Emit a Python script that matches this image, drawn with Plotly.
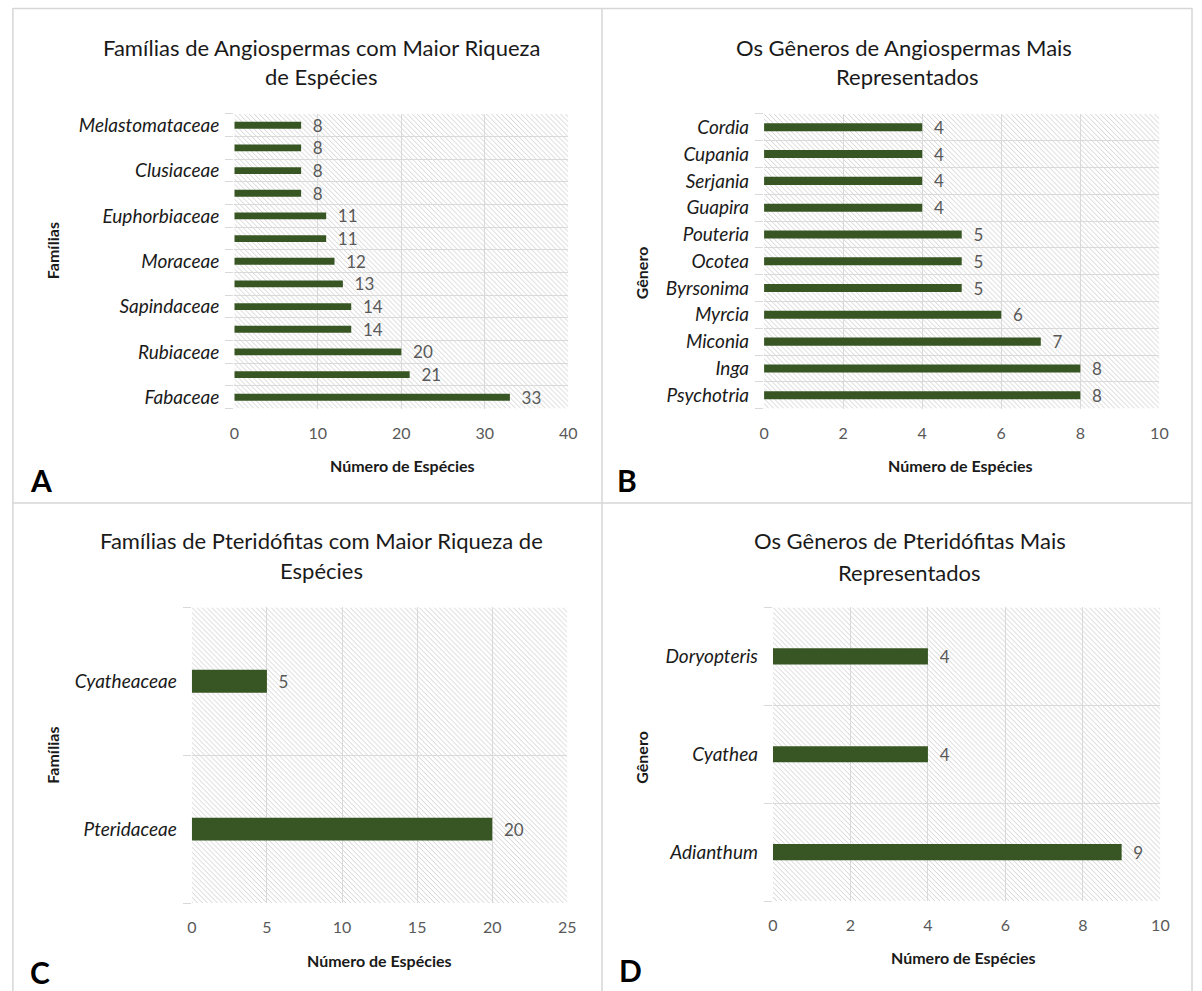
import base64
import plotly.graph_objects as go

W, H = 1202, 991

# ---------------- data ----------------
# Panel A (bottom -> top); unlabeled bands have no visible name in the source
fam_ang_labels = ["Fabaceae", "", "Rubiaceae", "", "Sapindaceae", "", "Moraceae", "",
                  "Euphorbiaceae", "", "Clusiaceae", "", "Melastomataceae"]
fam_ang_values = [33, 21, 20, 14, 14, 13, 12, 11, 11, 8, 8, 8, 8]

# Panel B (bottom -> top)
gen_ang_labels = ["Psychotria", "Inga", "Miconia", "Myrcia", "Byrsonima", "Ocotea",
                  "Pouteria", "Guapira", "Serjania", "Cupania", "Cordia"]
gen_ang_values = [8, 8, 7, 6, 5, 5, 5, 4, 4, 4, 4]

# Panel C (bottom -> top)
fam_pte_labels = ["Pteridaceae", "Cyatheaceae"]
fam_pte_values = [20, 5]

# Panel D (bottom -> top)
gen_pte_labels = ["Adianthum", "Cyathea", "Doryopteris"]
gen_pte_values = [9, 4, 4]

x_title = "Número de Espécies"
titles = [
    ["Famílias de Angiospermas com Maior Riqueza", "de Espécies"],
    ["Os Gêneros de Angiospermas Mais", "Representados"],
    ["Famílias de Pteridófitas com Maior Riqueza de", "Espécies"],
    ["Os Gêneros de Pteridófitas Mais", "Representados"],
]
y_titles = ["Famílias", "Gênero", "Famílias", "Gênero"]
letters = ["A", "B", "C", "D"]

# ---------------- style / layout ----------------
FONT = "Lato"
BAR = "#375623"
GRID = "#d9d9d9"
TXT = "#1a1a1a"
TICK = "#595959"

# plot areas in pixels: (left, right, top, bottom)
areas = [(232, 570, 113, 408), (768, 1168, 113, 408),
         (189, 569, 607, 903), (777, 1169, 607, 901)]
xranges = [(0, 40, 10), (0, 10, 2), (0, 25, 5), (0, 10, 2)]
bar_widths = [0.3, 0.3, 0.155, 0.165]
title_pos = [((320, 47), (320, 76)), ((910, 47), (913, 76)),
             ((320, 540), (320, 570)), ((916, 540), (915, 572))]
xtitle_pos = [(402, 465), (967, 465), (379, 960), (970, 957)]
ytitle_pos = [(48, 250), (644, 272), (48, 755), (644, 757)]
letter_pos = [(36, 479), (629, 479), (35, 972), (633, 970)]

datasets = [(fam_ang_labels, fam_ang_values), (gen_ang_labels, gen_ang_values),
            (fam_pte_labels, fam_pte_values), (gen_pte_labels, gen_pte_values)]


def px(x):
    return x / W


def py(y):
    return 1 - y / H


def hatch_uri(w, h):
    svg = (
        f'<svg xmlns="http://www.w3.org/2000/svg" width="{w}" height="{h}">'
        '<defs><pattern id="p" width="5" height="5" patternUnits="userSpaceOnUse">'
        '<line x1="0" y1="0" x2="5" y2="5" stroke="#d2d2d2" stroke-width="1"/>'
        '<line x1="-1" y1="4" x2="1" y2="6" stroke="#d2d2d2" stroke-width="1"/>'
        '<line x1="4" y1="-1" x2="6" y2="1" stroke="#d2d2d2" stroke-width="1"/>'
        '</pattern></defs>'
        f'<rect width="{w}" height="{h}" fill="#ffffff"/>'
        f'<rect width="{w}" height="{h}" fill="url(#p)"/></svg>'
    )
    return "data:image/svg+xml;base64," + base64.b64encode(svg.encode()).decode()


fig = go.Figure()
annotations = []
images = []

for i, ((labels, values), (l, r, t, b)) in enumerate(zip(datasets, areas)):
    n = i + 1
    xa = "x" if n == 1 else f"x{n}"
    ya = "y" if n == 1 else f"y{n}"
    pos = list(range(len(values)))
    fig.add_trace(go.Bar(
        x=values, y=pos, orientation="h", width=bar_widths[i],
        marker=dict(color=BAR, line=dict(width=0)),
        text=values, texttemplate="  %{x}", textposition="outside",
        constraintext="none", cliponaxis=False,
        textfont=dict(family=FONT, size=17, color=TICK),
        xaxis=xa, yaxis=ya, showlegend=False, hoverinfo="skip",
    ))
    x0, x1, dt = xranges[i]
    xkey = "xaxis" if n == 1 else f"xaxis{n}"
    ykey = "yaxis" if n == 1 else f"yaxis{n}"
    fig.update_layout(**{
        xkey: dict(domain=[px(l), px(r)], anchor=ya, range=[x0, x1], dtick=dt,
                   tick0=0, showgrid=True, gridcolor=GRID, gridwidth=1,
                   zeroline=False, showline=False, ticks="",
                   ticklabelstandoff=13,
                   tickfont=dict(family=FONT, size=16, color=TICK),
                   fixedrange=True),
        ykey: dict(domain=[py(b), py(t)], anchor=xa,
                   range=[-0.5, len(values) - 0.5],
                   tickmode="array", tickvals=pos, ticktext=labels,
                   ticks="", showgrid=False, zeroline=False, showline=False,
                   ticklabelstandoff=14,
                   tickfont=dict(family=FONT, size=19, color=TXT, style="italic"),
                   minor=dict(tickmode="array",
                              tickvals=[k - 0.5 for k in range(len(values) + 1)],
                              ticks="outside", ticklen=8, tickcolor=GRID,
                              showgrid=True, gridcolor=GRID, gridwidth=1),
                   fixedrange=True),
    })
    images.append(dict(source=hatch_uri(r - l, b - t), xref=f"{xa} domain",
                       yref=f"{ya} domain", x=0, y=1, sizex=1, sizey=1,
                       xanchor="left", yanchor="top", sizing="stretch",
                       layer="below"))
    for line_txt, (tx, ty) in zip(titles[i], title_pos[i]):
        annotations.append(dict(text=line_txt, x=px(tx), y=py(ty), xref="paper",
                                yref="paper", showarrow=False, xanchor="center",
                                yanchor="middle",
                                font=dict(family=FONT, size=22, color=TXT)))
    annotations.append(dict(text=f"<b>{x_title}</b>", x=px(xtitle_pos[i][0]),
                            y=py(xtitle_pos[i][1]), xref="paper", yref="paper",
                            showarrow=False, xanchor="center", yanchor="middle",
                            font=dict(family=FONT, size=16, color=TXT)))
    annotations.append(dict(text=f"<b>{y_titles[i]}</b>", x=px(ytitle_pos[i][0]),
                            y=py(ytitle_pos[i][1]), xref="paper", yref="paper",
                            showarrow=False, xanchor="center", yanchor="middle",
                            textangle=-90,
                            font=dict(family=FONT, size=16, color=TXT)))
    annotations.append(dict(text=f"<b>{letters[i]}</b>", x=px(letter_pos[i][0]),
                            y=py(letter_pos[i][1]), xref="paper", yref="paper",
                            showarrow=False, xanchor="center", yanchor="middle",
                            font=dict(family=FONT, size=30, color="#000000")))

# panel borders
BORDER = "#d6d6d6"
shapes = []
for xv in (8, 604, 1201):
    shapes.append(dict(type="line", xref="paper", yref="paper", x0=px(xv), x1=px(xv),
                       y0=py(7), y1=0, line=dict(color=BORDER, width=1.5)))
for yv in (7.5, 502.5):
    shapes.append(dict(type="line", xref="paper", yref="paper", x0=px(8), x1=px(1201),
                       y0=py(yv), y1=py(yv), line=dict(color=BORDER, width=1.5)))

fig.update_layout(
    width=W, height=H, margin=dict(l=0, r=0, t=0, b=0),
    paper_bgcolor="#ffffff", plot_bgcolor="rgba(0,0,0,0)",
    annotations=annotations, images=images, shapes=shapes,
    bargap=0.7, font=dict(family=FONT),
)

fig.write_html(
    "out.html",
    config={"displayModeBar": False},
    post_script="document.body.style.margin='0px';document.body.style.overflow='hidden';",
)
